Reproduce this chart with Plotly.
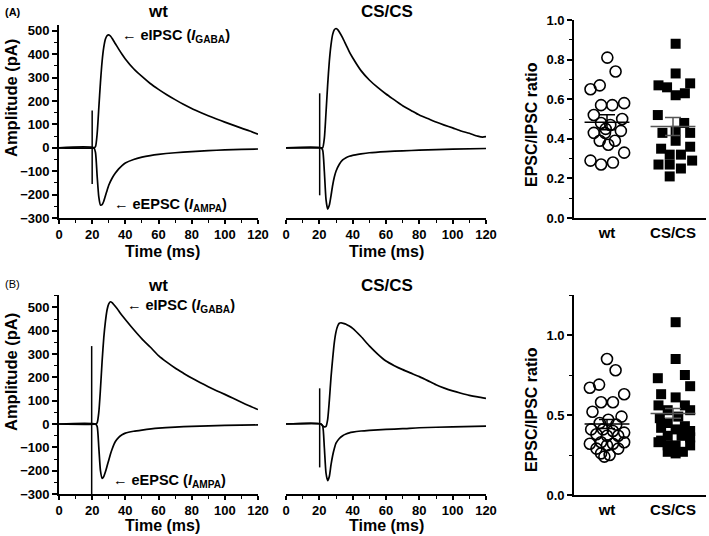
import plotly.graph_objects as go

W, H = 709, 536

# ---------------- data ----------------
# Panel A, wt traces
a_wt_ipsc_t = [0, 21, 22, 23, 24, 25, 26, 27, 28, 29, 30, 31, 32, 34, 36, 38, 40, 45, 50, 55, 60, 65, 70, 75, 80, 85, 90, 95, 100, 105, 110, 115, 120]
a_wt_ipsc_v = [0, 0, 5, 60, 170, 280, 370, 430, 465, 480, 483, 478, 468, 445, 422, 400, 380, 338, 305, 275, 250, 227, 206, 186, 168, 152, 137, 123, 110, 97, 84, 72, 58]
a_wt_epsc_t = [0, 21, 22, 23, 24, 25, 26, 27, 28, 29, 30, 32, 34, 36, 38, 40, 45, 50, 55, 60, 70, 80, 90, 100, 110, 120]
a_wt_epsc_v = [0, 0, -20, -120, -210, -245, -243, -228, -205, -182, -160, -130, -108, -90, -76, -65, -50, -40, -33, -28, -21, -16, -12, -9, -7, -5]
a_wt_stim_t = [20, 20]
a_wt_stim_v = [160, -155]

# Panel A, CS/CS traces
a_cs_ipsc_t = [0, 21, 22, 23, 24, 25, 26, 27, 28, 29, 30, 31, 32, 34, 36, 38, 40, 45, 50, 55, 60, 65, 70, 75, 80, 85, 90, 95, 100, 105, 110, 115, 118, 120]
a_cs_ipsc_v = [0, 0, 0, 40, 150, 270, 370, 440, 485, 505, 510, 505, 495, 470, 440, 410, 385, 330, 290, 258, 230, 205, 180, 160, 140, 125, 110, 97, 85, 72, 62, 50, 46, 48]
a_cs_epsc_t = [0, 21, 22, 23, 24, 25, 26, 27, 28, 29, 30, 32, 34, 36, 38, 40, 45, 50, 60, 70, 80, 100, 120]
a_cs_epsc_v = [0, 0, -10, -100, -220, -262, -245, -205, -160, -125, -100, -70, -52, -42, -36, -32, -26, -21, -16, -13, -10, -6, -3]
a_cs_stim_t = [20.2, 20.2]
a_cs_stim_v = [233, -203]

# Panel B, wt traces
b_wt_ipsc_t = [0, 22, 23, 24, 25, 26, 27, 28, 29, 30, 31, 32, 33, 35, 37, 40, 45, 50, 55, 60, 65, 70, 75, 80, 85, 90, 95, 100, 105, 110, 115, 120]
b_wt_ipsc_v = [0, 0, 5, 50, 150, 270, 370, 440, 490, 515, 524, 520, 512, 495, 475, 448, 405, 365, 330, 293, 265, 240, 218, 197, 178, 160, 143, 127, 110, 93, 77, 62]
b_wt_epsc_t = [0, 22, 23, 24, 25, 26, 27, 28, 29, 30, 31, 32, 34, 36, 38, 40, 45, 50, 60, 70, 80, 100, 120]
b_wt_epsc_v = [0, 0, -10, -100, -200, -233, -225, -205, -180, -155, -130, -108, -75, -57, -46, -39, -31, -26, -18, -13, -10, -6, -4]
b_wt_stim_t = [19.7, 19.7]
b_wt_stim_v = [334, -320]

# Panel B, CS/CS traces
b_cs_ipsc_t = [0, 21, 22, 23, 24, 25, 26, 27, 28, 29, 30, 31, 32, 33, 34, 36, 38, 40, 45, 50, 55, 60, 65, 70, 75, 80, 85, 90, 95, 100, 105, 110, 115, 120]
b_cs_ipsc_v = [0, 0, -8, -12, -10, 20, 100, 200, 280, 350, 395, 420, 432, 434, 432, 428, 420, 410, 375, 335, 300, 270, 250, 233, 218, 203, 186, 168, 154, 142, 132, 123, 116, 110]
b_cs_epsc_t = [0, 21, 22, 23, 24, 25, 26, 27, 28, 29, 30, 32, 34, 36, 38, 40, 45, 50, 60, 70, 80, 100, 120]
b_cs_epsc_v = [0, 0, -8, -100, -210, -243, -225, -175, -135, -105, -82, -62, -50, -43, -38, -35, -30, -27, -23, -20, -16, -12, -9]
b_cs_stim_t = [20.2, 20.2]
b_cs_stim_v = [153, -186]

# Ratio scatter data
groups = ["wt", "CS/CS"]
a_wt_ratio = [0.81, 0.74, 0.65, 0.67, 0.57, 0.57, 0.58, 0.52, 0.50, 0.48, 0.47, 0.43, 0.43, 0.44, 0.39, 0.37, 0.39, 0.33, 0.29, 0.27, 0.28, 0.45]
a_wt_jit = [0.005, 0.13, -0.25, -0.11, -0.09, 0.08, 0.26, -0.20, 0.23, -0.09, 0.05, -0.20, -0.03, 0.21, -0.11, 0.02, 0.12, 0.26, -0.25, -0.09, 0.09, -0.02]
a_cs_ratio = [0.88, 0.73, 0.67, 0.66, 0.68, 0.62, 0.63, 0.52, 0.48, 0.43, 0.44, 0.43, 0.39, 0.35, 0.36, 0.32, 0.32, 0.27, 0.27, 0.29, 0.25, 0.21]
a_cs_jit = [0.04, 0.04, -0.22, -0.09, 0.26, 0.04, 0.18, -0.23, 0.17, -0.16, 0.04, 0.26, 0.04, -0.18, 0.26, -0.05, 0.12, -0.22, -0.05, 0.29, 0.12, -0.05]
a_mean = [0.484, 0.462]
a_sem = [0.038, 0.045]

b_wt_ratio = [0.85, 0.78, 0.67, 0.69, 0.63, 0.58, 0.58, 0.49, 0.52, 0.47, 0.45, 0.44, 0.41, 0.41, 0.40, 0.39, 0.38, 0.37, 0.37, 0.33, 0.32, 0.33, 0.32, 0.29, 0.31, 0.29, 0.26, 0.25, 0.24]
b_wt_jit = [0.0, 0.13, -0.26, -0.12, 0.26, -0.09, 0.09, 0.22, -0.22, 0.02, -0.11, 0.14, -0.24, -0.06, 0.09, 0.26, -0.16, 0.0, 0.17, -0.09, -0.26, 0.26, 0.09, -0.16, 0.0, 0.17, -0.09, 0.04, -0.04]
b_cs_ratio = [1.08, 0.85, 0.73, 0.75, 0.68, 0.63, 0.61, 0.56, 0.56, 0.53, 0.53, 0.49, 0.48, 0.45, 0.42, 0.43, 0.41, 0.40, 0.37, 0.34, 0.37, 0.36, 0.31, 0.31, 0.31, 0.27, 0.27, 0.26, 0.33]
b_cs_jit = [0.04, 0.04, -0.23, 0.18, 0.26, -0.18, 0.04, -0.22, 0.18, -0.08, 0.26, 0.08, -0.2, -0.08, -0.18, 0.18, 0.04, 0.26, -0.08, -0.18, 0.13, 0.26, -0.08, 0.04, 0.26, -0.08, 0.15, 0.04, -0.22]
b_mean = [0.444, 0.51]
b_sem = [0.028, 0.03]

# ---------------- layout helpers ----------------
def fx(px):
    return px / W

def fy(py):
    return 1 - py / H

FONT = "Liberation Sans, Arial, sans-serif"
LW = 1.7

fig = go.Figure()

def add_line(t, v, xa, ya):
    fig.add_trace(go.Scatter(x=t, y=v, mode="lines", xaxis=xa, yaxis=ya,
                             line=dict(color="black", width=LW, shape="spline", smoothing=0.6),
                             showlegend=False, hoverinfo="skip"))

def add_stim(t, v, xa, ya):
    fig.add_trace(go.Scatter(x=t, y=v, mode="lines", xaxis=xa, yaxis=ya,
                             line=dict(color="black", width=1.5),
                             showlegend=False, hoverinfo="skip"))

# Panel A traces
add_stim(a_wt_stim_t, a_wt_stim_v, "x", "y")
add_line(a_wt_ipsc_t, a_wt_ipsc_v, "x", "y")
add_line(a_wt_epsc_t, a_wt_epsc_v, "x", "y")
add_stim(a_cs_stim_t, a_cs_stim_v, "x2", "y2")
add_line(a_cs_ipsc_t, a_cs_ipsc_v, "x2", "y2")
add_line(a_cs_epsc_t, a_cs_epsc_v, "x2", "y2")
# Panel B traces
add_stim(b_wt_stim_t, b_wt_stim_v, "x4", "y4")
add_line(b_wt_ipsc_t, b_wt_ipsc_v, "x4", "y4")
add_line(b_wt_epsc_t, b_wt_epsc_v, "x4", "y4")
add_stim(b_cs_stim_t, b_cs_stim_v, "x5", "y5")
add_line(b_cs_ipsc_t, b_cs_ipsc_v, "x5", "y5")
add_line(b_cs_epsc_t, b_cs_epsc_v, "x5", "y5")

def add_scatter(wt_r, wt_j, cs_r, cs_j, means, sems, xa, ya):
    fig.add_trace(go.Scatter(x=[0 + j for j in wt_j], y=wt_r, mode="markers", xaxis=xa, yaxis=ya,
                             marker=dict(symbol="circle-open", size=11, color="black",
                                         line=dict(width=1.6, color="black")),
                             showlegend=False, hoverinfo="skip"))
    fig.add_trace(go.Scatter(x=[1 + j for j in cs_j], y=cs_r, mode="markers", xaxis=xa, yaxis=ya,
                             marker=dict(symbol="square", size=10, color="black"),
                             showlegend=False, hoverinfo="skip"))
    for i, (m, s) in enumerate(zip(means, sems)):
        col = "black" if i == 0 else "#555555"
        fig.add_trace(go.Scatter(x=[i - 0.34, i + 0.34], y=[m, m], mode="lines", xaxis=xa, yaxis=ya,
                                 line=dict(color=col, width=1.5),
                                 showlegend=False, hoverinfo="skip"))
        fig.add_trace(go.Scatter(x=[i], y=[m], mode="markers", xaxis=xa, yaxis=ya,
                                 marker=dict(size=1, color="rgba(0,0,0,0)"),
                                 error_y=dict(type="data", array=[s], color=col, thickness=1.5, width=8),
                                 showlegend=False, hoverinfo="skip"))

add_scatter(a_wt_ratio, a_wt_jit, a_cs_ratio, a_cs_jit, a_mean, a_sem, "x3", "y3")
add_scatter(b_wt_ratio, b_wt_jit, b_cs_ratio, b_cs_jit, b_mean, b_sem, "x6", "y6")

# ---------------- axes ----------------
tickfont = dict(family=FONT, size=13, color="black", weight="bold")
common = dict(showline=True, linecolor="black", linewidth=1.7, ticks="outside",
              ticklen=4, tickwidth=1.5, tickcolor="black", showgrid=False, zeroline=False,
              tickfont=tickfont, automargin=False, fixedrange=True)

def time_axis(dom, anchor):
    return dict(common, domain=dom, anchor=anchor, range=[0, 120], dtick=20, tick0=0,
                minor=dict(dtick=10, ticks="outside", ticklen=3, tickwidth=1.3, tickcolor="black"))

def amp_axis(dom, anchor, top, visible=True):
    d = dict(common, domain=dom, anchor=anchor, range=[-300, top], dtick=100, tick0=0, ticklen=5,
             minor=dict(dtick=50, ticks="outside", ticklen=3, tickwidth=1.3, tickcolor="black"))
    if not visible:
        d["visible"] = False
    return d

xw = [fx(59), fx(258)]
xc = [fx(286), fx(486)]
xs = [fx(574), fx(706)]
yA = [fy(218), fy(25)]
yB = [fy(494), fy(295)]

fig.update_layout(
    xaxis=time_axis(xw, "y"),
    yaxis=amp_axis(yA, "x", 525),
    xaxis2=time_axis(xc, "y2"),
    yaxis2=amp_axis(yA, "x2", 525, visible=False),
    xaxis3=dict(common, domain=xs, anchor="y3", range=[-0.5, 1.5], tickvals=[0, 1], ticktext=groups,
                ticks="", tickfont=dict(family=FONT, size=15, color="black", weight="bold")),
    yaxis3=dict(common, domain=[fy(218), fy(20)], anchor="x3", range=[0, 1.0], dtick=0.2, tickformat=".1f",
                ticklen=5,
                minor=dict(dtick=0.1, ticks="outside", ticklen=3, tickwidth=1.3, tickcolor="black")),
    xaxis4=time_axis(xw, "y4"),
    yaxis4=amp_axis(yB, "x4", 553),
    xaxis5=time_axis(xc, "y5"),
    yaxis5=amp_axis(yB, "x5", 553, visible=False),
    xaxis6=dict(common, domain=xs, anchor="y6", range=[-0.5, 1.5], tickvals=[0, 1], ticktext=groups,
                ticks="", tickfont=dict(family=FONT, size=15, color="black", weight="bold")),
    yaxis6=dict(common, domain=[fy(495), fy(295)], anchor="x6", range=[0, 1.25], dtick=0.5, tickformat=".1f",
                ticklen=5,
                minor=dict(dtick=0.25, ticks="outside", ticklen=3, tickwidth=1.3, tickcolor="black")),
)

# ---------------- text ----------------
def ptext(text, px, py, size, angle=0, weight="bold", xanchor="center"):
    fig.add_annotation(text=text, x=fx(px), y=fy(py), xref="paper", yref="paper",
                       showarrow=False, xanchor=xanchor, yanchor="middle", textangle=angle,
                       font=dict(family=FONT, size=size, color="black", weight=weight))

ptext("(A)", 3, 12, 11, xanchor="left")
ptext("(B)", 3, 284, 11, weight="normal", xanchor="left")
ptext("wt", 158, 11, 17)
ptext("CS/CS", 387, 11, 17)
ptext("wt", 158, 285, 17)
ptext("CS/CS", 387, 285, 17)
ptext("Amplitude (pA)", 11, 98, 16.5, angle=-90)
ptext("Amplitude (pA)", 11, 372, 16.5, angle=-90)
ptext("EPSC/IPSC ratio", 531, 125, 16, angle=-90)
ptext("EPSC/IPSC ratio", 531, 410, 16, angle=-90)
ptext("Time (ms)", 162, 251, 16)
ptext("Time (ms)", 386, 251, 16)
ptext("Time (ms)", 162, 525, 16)
ptext("Time (ms)", 386, 525, 16)

def dtext(text, x, y, xa, ya):
    fig.add_annotation(text=text, x=x, y=y, xref=xa, yref=ya, showarrow=False,
                       xanchor="left", yanchor="middle",
                       font=dict(family=FONT, size=14.5, color="black", weight="bold"))

ipsc_lbl = "\u2190 eIPSC (<i>I</i><sub>GABA</sub>)"
epsc_lbl = "\u2190 eEPSC (<i>I</i><sub>AMPA</sub>)"
dtext(ipsc_lbl, 36.5, 478, "x", "y")
dtext(epsc_lbl, 32, -244, "x", "y")
dtext(ipsc_lbl, 40, 508, "x4", "y4")
dtext(epsc_lbl, 31.5, -244, "x4", "y4")

fig.update_layout(width=W, height=H, autosize=False, margin=dict(l=0, r=0, t=0, b=0),
                  paper_bgcolor="white", plot_bgcolor="white", showlegend=False)

fig.write_html("out.html", config={"displayModeBar": False},
               post_script="document.body.style.margin='0';document.body.style.padding='0';")
